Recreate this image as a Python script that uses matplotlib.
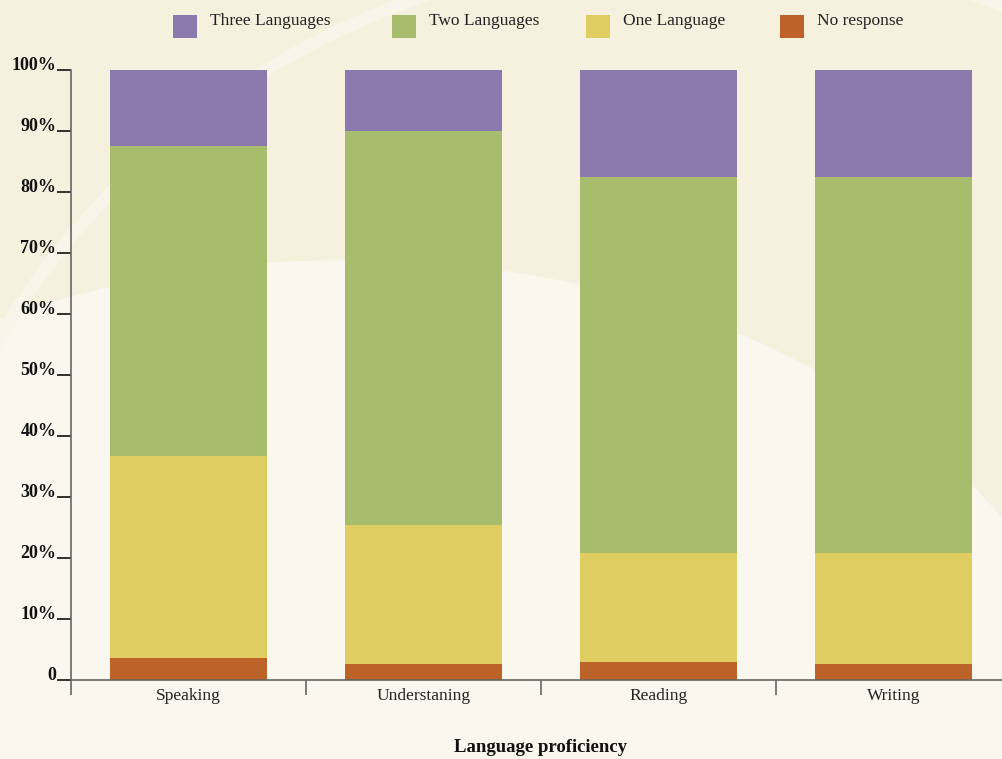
import numpy as np
import matplotlib.pyplot as plt
from matplotlib.patches import Ellipse, Rectangle
from matplotlib.transforms import ScaledTranslation

categories = ["Speaking", "Understaning", "Reading", "Writing"]
series = ["Three Languages", "Two Languages", "One Language", "No response"]

# percent of respondents, bottom to top in the stack
no_response = [3.6, 2.5, 2.8, 2.6]
one_language = [33.1, 22.9, 18.0, 18.2]
two_languages = [50.8, 64.6, 61.7, 61.7]
three_languages = [12.5, 10.0, 17.5, 17.5]

colors = {
    "Three Languages": "#8c79ad",
    "Two Languages": "#a7bd6d",
    "One Language": "#dfcd62",
    "No response": "#bd6229",
}

W, H = 1002, 759
plt.rcParams["font.family"] = ["Liberation Serif", "DejaVu Serif"]

fig = plt.figure(figsize=(W / 100, H / 100), dpi=100, facecolor="#f6f0df")


def px(x, y):
    return x / 100, (H - y) / 100


# soft background swirls
bg = fig.dpi_scale_trans
fig.patches.append(Ellipse(px(350, 770), 15.0, 10.2, transform=bg,
                           facecolor="#faf7ee", edgecolor="none", zorder=-5))
fig.patches.append(Ellipse(px(1150, 900), 9.0, 8.0, transform=bg,
                           facecolor="#faf7ee", edgecolor="none", zorder=-5))
fig.patches.append(Ellipse(px(700, 700), 16.0, 15.0, transform=bg,
                           facecolor="none", edgecolor="#f9f5ea", lw=9,
                           zorder=-4))

ax = fig.add_axes([71 / W, (H - 679.5) / H, 940 / W, 609.5 / H])
ax.set_facecolor("none")

x = np.arange(len(categories))
width = 0.672
bottom = np.zeros(len(categories))
stack = [("No response", no_response), ("One Language", one_language),
         ("Two Languages", two_languages), ("Three Languages", three_languages)]
for name, vals in stack:
    ax.bar(x, vals, width, bottom=bottom, color=colors[name], label=name,
           zorder=2)
    bottom += np.array(vals)

ax.set_xlim(-0.5, 3.5)
ax.set_ylim(0, 100)

for s in ["top", "right"]:
    ax.spines[s].set_visible(False)
ax.spines["left"].set_color("#666666")
ax.spines["bottom"].set_color("#666666")
ax.spines["left"].set_linewidth(1.2)
ax.spines["bottom"].set_linewidth(1.2)

yt = np.arange(0, 101, 10)
ax.set_yticks(yt)
ax.set_yticklabels(["0"] + [f"{v}%" for v in yt[1:]], fontsize=13,
                   fontweight="bold", color="#111111")
shift = ScaledTranslation(0, -2.5 / 100, fig.dpi_scale_trans)
for lab in ax.get_yticklabels():
    lab.set_va("baseline")
    lab.set_transform(lab.get_transform() + shift)
ax.tick_params(axis="y", direction="out", length=10, width=1.3,
               color="#222222", pad=0.5)

ax.set_xticks(np.arange(-0.5, 3.6, 1.0))
ax.set_xticklabels([])
ax.tick_params(axis="x", which="major", direction="out", length=11,
               width=1.2, color="#666666")
ax.set_xticks(x, minor=True)
ax.set_xticklabels(categories, minor=True, fontsize=12.5, color="#222222")
ax.tick_params(axis="x", which="minor", length=0, pad=6)

fig.text(540 / W, 1 - 748 / H, "Language proficiency", ha="center",
         va="center", fontsize=13.5, fontweight="bold", color="#111111")

# legend row across the top
leg_x = [173, 392, 586, 780]
for lx, name in zip(leg_x, series):
    fig.patches.append(Rectangle(px(lx, 38), 0.24, 0.23, transform=bg,
                                 facecolor=colors[name], edgecolor="none"))
    fig.text((lx + 37) / W, 1 - 21 / H, name, ha="left", va="center",
             fontsize=12.5, color="#222222")

fig.savefig("out.png", dpi=100, facecolor=fig.get_facecolor())
